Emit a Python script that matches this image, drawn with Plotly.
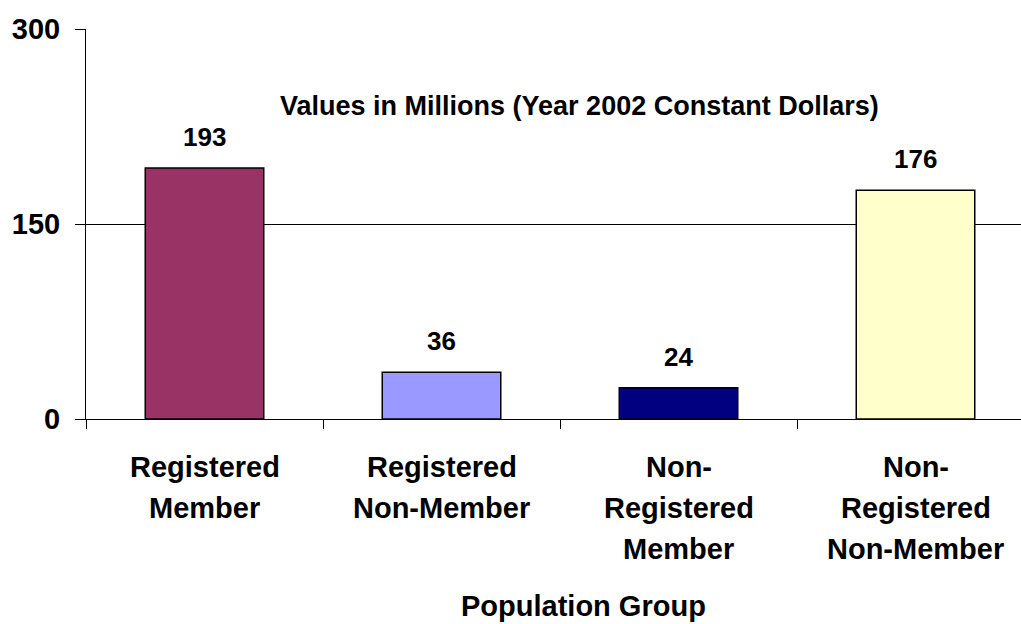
import plotly.graph_objects as go

categories = ["Registered\nMember", "Registered\nNon-Member", "Non-\nRegistered\nMember", "Non-\nRegistered\nNon-Member"]
values = [193, 36, 24, 176]
colors = ["#993366", "#9999FF", "#000080", "#FFFFCC"]
y_ticks = [0, 150, 300]
chart_note = "Values in Millions (Year 2002 Constant Dollars)"
x_title = "Population Group"

FONT = "Arial, Liberation Sans, sans-serif"
W, H = 1021, 624
ML, MR, MT, MB = 86, 0, 29, 205
CAT_PX = 237.0
plot_w = W - ML - MR

cat_ids = [c.replace("\n", " ") for c in categories]

fig = go.Figure()
fig.add_trace(go.Bar(
    x=cat_ids, y=values, width=0.5,
    marker=dict(color=colors, line=dict(color="black", width=1.5)),
    hoverinfo="skip",
))

annotations = []
# value labels
for c, v in zip(cat_ids, values):
    annotations.append(dict(x=c, y=v, xref="x", yref="y", text=f"<b>{v}</b>",
                            showarrow=False, yanchor="middle", yshift=31,
                            font=dict(family=FONT, size=26, color="black")))
# category labels (multi-line)
for c, lab in zip(cat_ids, categories):
    for i, line in enumerate(lab.split("\n")):
        annotations.append(dict(x=c, y=0, xref="x", yref="y", text=f"<b>{line}</b>",
                                showarrow=False, yanchor="middle", yshift=-(48 + i * 41),
                                font=dict(family=FONT, size=29, color="black")))
# chart note
annotations.append(dict(x=(579 - ML) / plot_w, y=1, xref="paper", yref="paper",
                        text=f"<b>{chart_note}</b>", showarrow=False, yanchor="middle",
                        yshift=-(106 - MT), font=dict(family=FONT, size=27, color="black")))
# x axis title
annotations.append(dict(x=(583 - ML) / plot_w, y=0, xref="paper", yref="paper",
                        text=f"<b>{x_title}</b>", showarrow=False, yanchor="middle",
                        yshift=-(606 - (H - MB)), font=dict(family=FONT, size=29, color="black")))

fig.update_layout(
    width=W, height=H,
    margin=dict(l=ML, r=MR, t=MT, b=MB, pad=0),
    paper_bgcolor="white", plot_bgcolor="white",
    showlegend=False,
    annotations=annotations,
    font=dict(family=FONT, color="black"),
)
fig.update_xaxes(
    type="category", categoryorder="array", categoryarray=cat_ids,
    range=[-0.5, -0.5 + plot_w / CAT_PX],
    showticklabels=False, tickson="boundaries", ticks="outside", ticklen=9,
    tickcolor="black", tickwidth=1,
    showline=True, linecolor="black", linewidth=1, showgrid=False, zeroline=False,
)
fig.update_yaxes(
    range=[0, 300], tickvals=y_ticks, ticktext=[f"<b>{t}</b>" for t in y_ticks],
    ticks="outside", ticklen=10, tickcolor="black", tickwidth=1,
    ticklabelstandoff=9,
    tickfont=dict(family=FONT, size=29, color="black"),
    showline=True, linecolor="black", linewidth=1,
    showgrid=True, gridcolor="black", gridwidth=1, zeroline=False,
)

fig.write_html("out.html")
